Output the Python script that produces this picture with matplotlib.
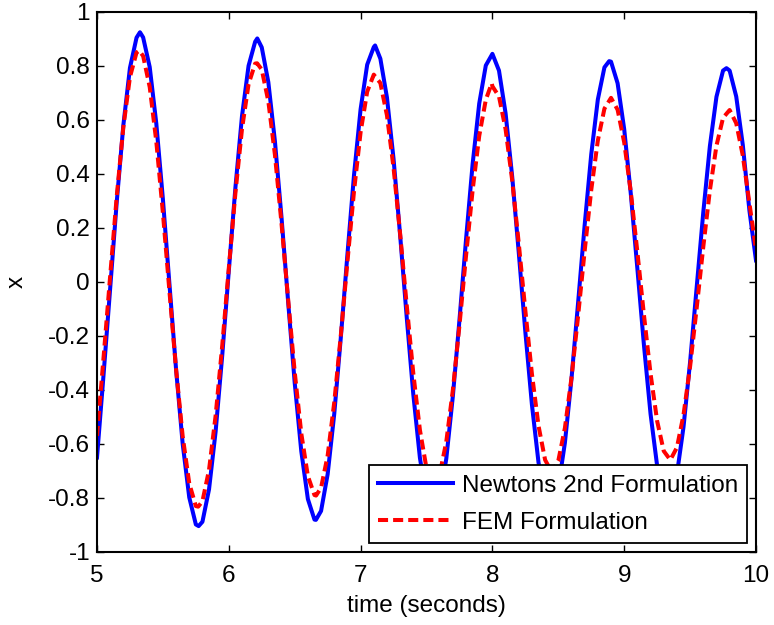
import numpy as np
import matplotlib
matplotlib.use('Agg')
import matplotlib.pyplot as plt

# ---------------- data ----------------
t_grid = np.linspace(5.0, 10.0, 101)

x_newton = [
    -0.650, -0.342, -0.023, 0.298, 0.581, 0.793, 0.905, 0.906, 0.796, 0.587,
    0.307, -0.010, -0.324, -0.599, -0.798, -0.898, -0.888, -0.768, -0.554, -0.273,
    0.041, 0.349, 0.614, 0.801, 0.890, 0.869, 0.740, 0.521, 0.239, -0.072,
    -0.373, -0.627, -0.804, -0.880, -0.848, -0.712, -0.489, -0.205, 0.102, 0.396,
    0.640, 0.805, 0.870, 0.827, 0.683, 0.456, 0.173, -0.131, -0.417, -0.651,
    -0.804, -0.858, -0.806, -0.655, -0.423, -0.141, 0.158, 0.437, 0.661, 0.802,
    0.845, 0.783, 0.625, 0.391, 0.109, -0.185, -0.455, -0.669, -0.799, -0.831,
    -0.760, -0.596, -0.359, -0.078, 0.211, 0.473, 0.676, 0.795, 0.816, 0.736,
    0.566, 0.327, 0.049, -0.235, -0.489, -0.681, -0.790, -0.800, -0.712, -0.537,
    -0.296, -0.019, 0.258, 0.503, 0.686, 0.783, 0.783, 0.687, 0.507, 0.265,
    0.080,
]
# extra points at the peaks / troughs of the Newton curve
t_newton_ext = [5.326, 5.771, 6.216, 6.661, 7.110, 8.441, 8.886, 9.331, 9.776]
x_newton_ext = [0.925, -0.904, 0.902, -0.881, 0.876, -0.833, 0.818, -0.808, 0.792]

x_fem = [
    -0.570, -0.278, 0.023, 0.319, 0.574, 0.759, 0.850, 0.837, 0.722, 0.520,
    0.256, -0.037, -0.324, -0.571, -0.746, -0.830, -0.812, -0.696, -0.495, -0.236,
    0.051, 0.329, 0.566, 0.733, 0.809, 0.787, 0.669, 0.471, 0.216, -0.063,
    -0.333, -0.561, -0.719, -0.789, -0.762, -0.643, -0.446, -0.197, 0.075, 0.336,
    0.555, 0.705, 0.768, 0.737, 0.617, 0.423, 0.178, -0.086, -0.339, -0.548,
    -0.690, -0.747, -0.712, -0.592, -0.400, -0.161, 0.097, 0.340, 0.541, 0.675,
    0.725, 0.687, 0.566, 0.377, 0.143, -0.106, -0.341, -0.533, -0.659, -0.704,
    -0.662, -0.541, -0.355, -0.127, 0.115, 0.341, 0.524, 0.642, 0.682, 0.638,
    0.517, 0.334, 0.111, -0.123, -0.340, -0.515, -0.626, -0.659, -0.613, -0.492,
    -0.313, -0.096, 0.130, 0.339, 0.505, 0.608, 0.637, 0.588, 0.468, 0.292,
    0.120,
]
t_fem_ext = [5.320, 5.768, 6.215, 6.662, 7.995]
x_fem_ext = [0.857, -0.832, 0.810, -0.791, 0.736]

series_labels = ['Newtons 2nd Formulation', 'FEM Formulation']
x_ticks = [5, 6, 7, 8, 9, 10]
y_ticks = [-1, -0.8, -0.6, -0.4, -0.2, 0, 0.2, 0.4, 0.6, 0.8, 1]
y_tick_labels = ['-1', '-0.8', '-0.6', '-0.4', '-0.2', '0', '0.2', '0.4', '0.6', '0.8', '1']
x_label = 'time (seconds)'
y_label = 'x'


def merge(tg, xg, te, xe):
    t = np.concatenate([np.asarray(tg), np.asarray(te)])
    x = np.concatenate([np.asarray(xg), np.asarray(xe)])
    o = np.argsort(t, kind='stable')
    return t[o], x[o]


tb, xb = merge(t_grid, x_newton, t_newton_ext, x_newton_ext)
tr, xr = merge(t_grid, x_fem, t_fem_ext, x_fem_ext)

# ---------------- figure ----------------
plt.rcParams['font.family'] = ['Liberation Sans', 'DejaVu Sans']
plt.rcParams['axes.unicode_minus'] = False
FS = 17.5

W, H = 774, 625
fig = plt.figure(figsize=(W / 100, H / 100), dpi=100)
ax = fig.add_axes([97 / W, 1 - 552 / H, (756 - 97) / W, (552 - 12) / H])

ax.plot(tb, xb, color='#0000ff', lw=2.9, label=series_labels[0])
ax.plot(tr, xr, color='#ff0000', lw=2.9, dashes=(2.5, 1.25), label=series_labels[1])

ax.set_xlim(5, 10)
ax.set_ylim(-1, 1)
ax.set_xticks(x_ticks)
ax.set_xticklabels([str(v) for v in x_ticks])
ax.set_yticks(y_ticks)
ax.set_yticklabels(y_tick_labels)
ax.tick_params(direction='in', length=4.7, width=1.0, top=True, right=True,
               labelsize=FS, colors='black')
ax.tick_params(axis='y', pad=5)
ax.tick_params(axis='x', pad=9)
for s in ax.spines.values():
    s.set_linewidth(1.5)
    s.set_color('black')

ax.set_xlabel(x_label, fontsize=FS, labelpad=6)
ax.set_ylabel(y_label, fontsize=FS)
ax.yaxis.set_label_coords(-0.105, 0.5)

leg = ax.legend(loc='lower right', bbox_to_anchor=(747 / W, 1 - 543 / H),
                bbox_transform=fig.transFigure, borderaxespad=0,
                fancybox=False, framealpha=1, edgecolor='black',
                fontsize=FS, handlelength=3.05, handletextpad=0.37,
                borderpad=0.38, labelspacing=0.62)
leg.get_frame().set_linewidth(1.3)

fig.savefig('out.png', dpi=100)
